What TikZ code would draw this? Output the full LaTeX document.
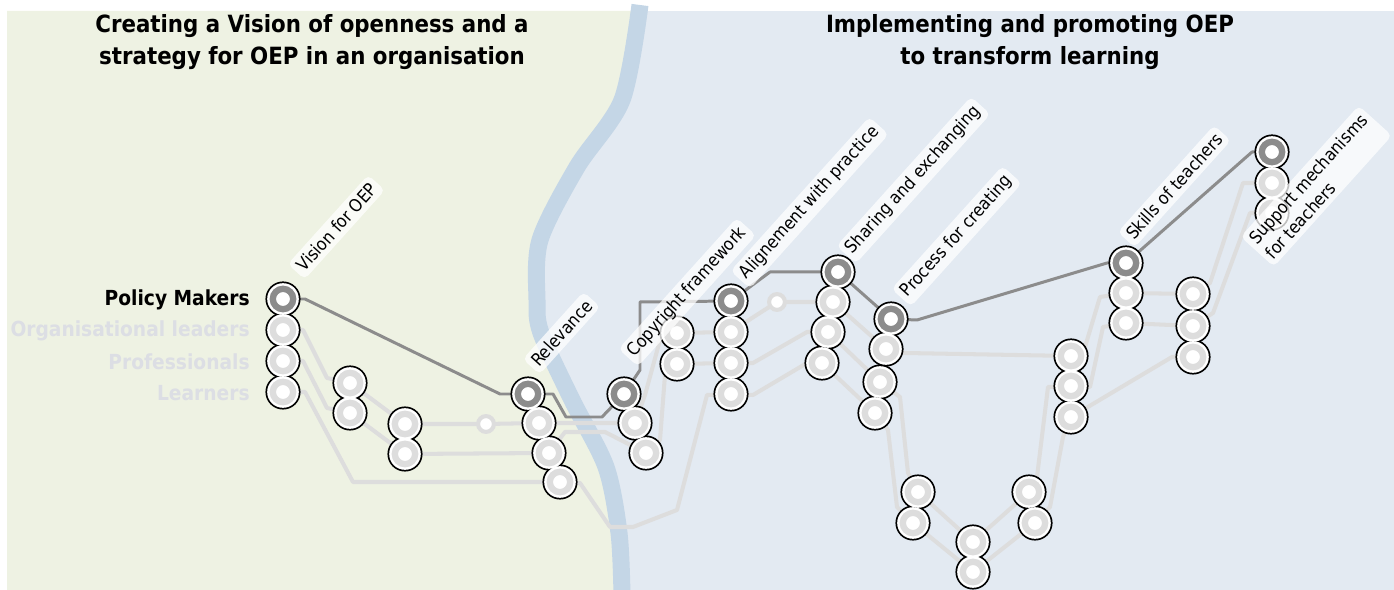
\documentclass[tikz,border=0pt]{standalone}
\usepackage{fontspec}
\newfontfamily\oepfont{DejaVu Sans Condensed}

\definecolor{vispale}{HTML}{EEF2E3}
\definecolor{implpale}{HTML}{E3EAF2}
\definecolor{river}{HTML}{C4D6E6}
\definecolor{pmgray}{HTML}{8C8C8C}
\definecolor{rowgray}{HTML}{DDDDDD}
\definecolor{fadedtext}{HTML}{DCDEE4}

\pgfdeclarelayer{bg}
\pgfdeclarelayer{lines}
\pgfsetlayers{bg,lines,main}

\tikzset{
  stop/.style={circle, fill=white, line width=3.6pt, minimum size=11.6pt, inner sep=0pt},
  pm/.style={draw=pmgray},
  rw/.style={draw=rowgray},
  junction/.style={circle, fill=white, draw=rowgray, line width=2.3pt, minimum size=9pt, inner sep=0pt},
  pmline/.style={draw=pmgray, line width=1.7pt, line join=round},
  rowline/.style={draw=rowgray, line width=2.3pt, line join=round},
  heading/.style={font=\oepfont\bfseries\fontsize{13.5}{18.2}\selectfont, align=center},
  rowname/.style={font=\oepfont\bfseries\fontsize{11.8}{13}\selectfont, anchor=east, inner sep=0pt},
  stoplabel/.style={font=\oepfont\fontsize{10}{12.5}\selectfont, fill=white, fill opacity=0.75,
    text opacity=1, rounded corners=3pt, inner sep=2.6pt, rotate=48, anchor=west}
}

% name/x/y/kind of every stop
\def\stoplist{vis1/283/299/pm, vis2/283/330/rw, vis3/283/361/rw, vis4/283/392/rw,
  b1/350/383/rw, b2/350/413/rw, c1/405/424/rw, c2/405/454/rw,
  rel1/528/394/pm, rel2/539/423/rw, rel3/549/453/rw, rel4/560/482/rw,
  cop1/624/394/pm, cop2/635/423/rw, cop3/646/453/rw, d1/677/333/rw, d2/677/364/rw,
  ali1/731/301/pm, ali2/731/332/rw, ali3/731/363/rw, ali4/731/394/rw,
  sha1/838/272/pm, sha2/833/302/rw, sha3/828/332/rw, sha4/822/363/rw,
  pro1/891/319/pm, pro2/886/349/rw, pro3/880/382/rw, pro4/875/413/rw,
  e1/918/492/rw, e2/913/523/rw, f1/973/542/rw, f2/973/572/rw,
  h1/1029/492/rw, h2/1035/523/rw, k1/1071/356/rw, k2/1071/386/rw, k3/1071/417/rw,
  ski1/1126/263/pm, ski2/1126/293/rw, ski3/1126/323/rw,
  m1/1193/294/rw, m2/1193/326/rw, m3/1193/357/rw,
  sup1/1272/152/pm, sup2/1272/183/rw, sup3/1272/213/rw}

\begin{document}
\begin{tikzpicture}[x=0.02cm, y=-0.02cm]
\useasboundingbox (0,0) rectangle (1394,590);

% the two areas and the river between them
\begin{pgfonlayer}{bg}
\fill[implpale] (7,11) rectangle (1394,590);
\fill[vispale] (7,11) -- plot[smooth] coordinates {(640,11) (622,100) (577,167) (540,240) (537,300) (541,333) (572,400) (606,467) (619,533) (622,590)} -- (7,590) -- cycle;
\draw[river, line width=0.34cm] plot[smooth] coordinates {(640,5) (622,100) (577,167) (540,240) (537,300) (541,333) (572,400) (606,467) (619,533) (622,595)};
\end{pgfonlayer}

\node[heading] (lefthead) at (312,42) {Creating a Vision of openness and a\\strategy for OEP in an organisation};
\node[heading] (righthead) at (1030,42) {Implementing and promoting OEP\\to transform learning};

\node[rowname] (pmname) at (250,300) {Policy Makers};
\node[rowname, text=fadedtext] (olname) at (250,331) {Organisational leaders};
\node[rowname, text=fadedtext] (prname) at (250,362) {Professionals};
\node[rowname, text=fadedtext] (lename) at (250,393) {Learners};

% stops: black rim, white disc, then the ring
\foreach \n/\x/\y/\k in \stoplist
  \fill[black] (\x,\y) circle (10pt);
\foreach \n/\x/\y/\k in \stoplist
  \fill[white] (\x,\y) circle (9pt);
\foreach \n/\x/\y/\k in \stoplist
  \node[stop, \k] (\n) at (\x,\y) {};

\node[junction] (j1) at (486,424) {};
\node[junction] (j2) at (777,302) {};

\begin{pgfonlayer}{lines}
% policy makers
\draw[pmline] (vis1.center) -- (305,299) -- (500,394) -- (rel1.center) -- (553,394) -- (566,417) -- (602,417) -- (cop1.center)
  -- (640,370) -- (640,302) -- (ali1.center) -- (770,272) -- (sha1.center) -- (pro1.center) -- (917,320) -- (1107,263)
  -- (ski1.center) -- (1252,152) -- (sup1.center);
% organisational leaders
\draw[rowline] (vis2.center) -- (303,330) -- (327,378) -- (b1.center) -- (c1.center) -- (j1.center) -- (rel2.center) -- (cop2.center)
  -- (645,395) -- (660,340) -- (d1.center) -- (ali2.center) -- (752,318) -- (j2.center) -- (sha2.center) -- (pro2.center)
  -- (905,353) -- (k1.center) -- (1085,347) -- (1100,297) -- (ski2.center) -- (m1.center) -- (1210,283) -- (1243,183) -- (sup2.center);
% professionals
\draw[rowline] (vis3.center) -- (303,361) -- (327,408) -- (b2.center) -- (c2.center) -- (rel3.center) -- (565,432) -- (605,432) -- (cop3.center)
  -- (660,440) -- (665,375) -- (d2.center) -- (ali3.center) -- (753,363) -- (807,332) -- (sha3.center) -- (pro3.center)
  -- (900,397) -- (908,473) -- (e1.center) -- (f1.center) -- (h1.center) -- (1037,477) -- (1048,387) -- (k2.center)
  -- (1090,387) -- (1103,327) -- (ski3.center) -- (m2.center) -- (1213,313) -- (1250,213) -- (sup3.center);
% learners
\draw[rowline] (vis4.center) -- (305,392) -- (353,482) -- (rel4.center) -- (580,483) -- (610,527) -- (633,527) -- (677,510)
  -- (707,395) -- (ali4.center) -- (753,395) -- (807,363) -- (sha4.center) -- (pro4.center) -- (888,430) -- (897,507)
  -- (e2.center) -- (f2.center) -- (h2.center) -- (1050,507) -- (1063,437) -- (k3.center) -- (1172,357) -- (m3.center);
\end{pgfonlayer}

\node[stoplabel] (visname) at (296,272) {Vision for OEP};
\node[stoplabel] (relname) at (531,367) {Relevance};
\node[stoplabel] (copname) at (628,358) {Copyright framework};
\node[stoplabel] (aliname) at (740,280) {Alignement with practice};
\node[stoplabel] (shaname) at (846,255) {Sharing and exchanging};
\node[stoplabel] (proname) at (901,298) {Process for creating};
\node[stoplabel] (skiname) at (1126,240) {Skills of teachers};
\node[stoplabel, align=left] (supname) at (1257,252) {Support mechanisms\\for teachers};
\end{tikzpicture}
\end{document}
